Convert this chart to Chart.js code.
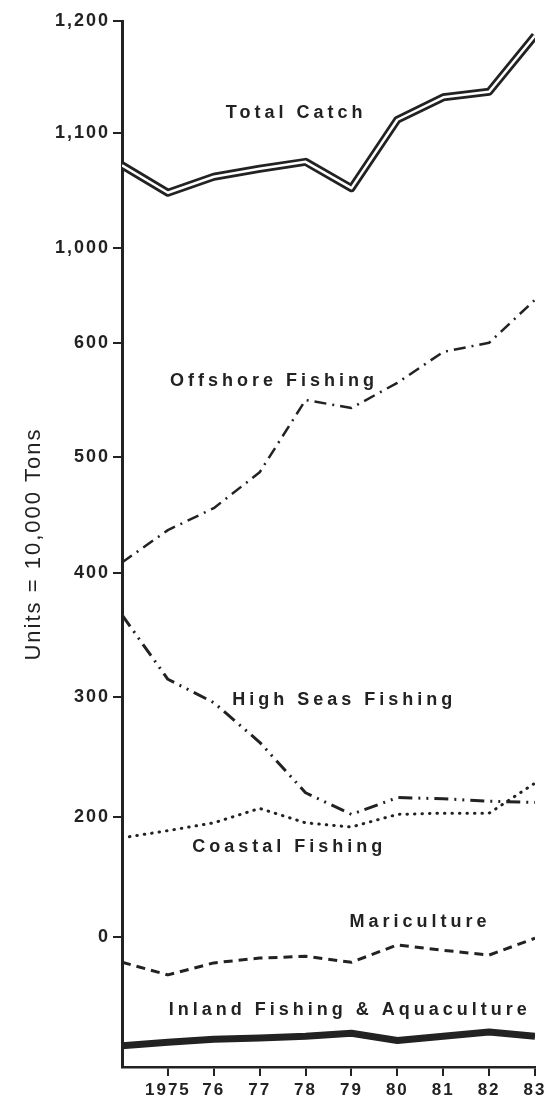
<!DOCTYPE html>
<html>
<head>
<meta charset="utf-8">
<script src="https://cdn.jsdelivr.net/npm/chart.js@4.4.1/dist/chart.umd.min.js"></script>
<style>
  html, body { margin: 0; padding: 0; background: #fff; }
  #wrap { width: 551px; height: 1102px; }
</style>
</head>
<body>
<div id="wrap"><canvas id="catchChart"></canvas></div>
<script>
// Data (units = 10,000 tons, read against the printed axis labels)
const years = [1974, 1975, 1976, 1977, 1978, 1979, 1980, 1981, 1982, 1983];
const xTickYears = [1975, 1976, 1977, 1978, 1979, 1980, 1981, 1982, 1983];
const xTickLabels = ['1975', '76', '77', '78', '79', '80', '81', '82', '83'];

const yTickValues = [0, 200, 300, 400, 500, 600, 1000, 1100, 1200];
const yTickLabels = ['0', '200', '300', '400', '500', '600', '1,000', '1,100', '1,200'];

const totalCatch  = [1072, 1048, 1062, 1069, 1075, 1052, 1112, 1132, 1137, 1187];
const offshore    = [409, 437, 456, 487, 550, 543, 565, 592, 600, 781];
const highSeas    = [366, 314, 295, 262, 220, 202, 216, 215, 213, 212];
const coastal     = [165, 177, 190, 207, 190, 183, 202, 203, 203, 228];
const mariculture = [-42, -63, -43, -35, -32, -42, -13, -22, -30, -2];
const inland      = [-181, -175, -170, -168, -165, -160, -172, -165, -158, -165];

// The printed axis is broken, so each label sits at its own slot on the axis
const axisSlots = [0, 1.05, 2.10, 3.18, 4.19, 5.19, 6.02, 7.02, 8.0];

function toAxis(v) {
  const tv = yTickValues, ts = axisSlots;
  let i = 0;
  if (v <= tv[0]) i = 0;
  else if (v >= tv[tv.length - 1]) i = tv.length - 2;
  else while (v > tv[i + 1]) i++;
  const f = (v - tv[i]) / (tv[i + 1] - tv[i]);
  return ts[i] + f * (ts[i + 1] - ts[i]);
}

function series(values) {
  return values.map((v, i) => ({ x: years[i], y: toAxis(v) }));
}

const ink = '#222';

// Labels written next to each line
const lineLabels = [
  { text: 'Total Catch', year: 1977.75, value: 1118 },
  { text: 'Offshore Fishing', year: 1977.27, value: 567 },
  { text: 'High Seas Fishing', year: 1978.8, value: 297 },
  { text: 'Coastal Fishing', year: 1977.6, value: 150 },
  { text: 'Mariculture', year: 1980.45, value: 25 },
  { text: 'Inland Fishing & Aquaculture', year: 1978.92, value: -121 }
];

const spacingPlugin = {
  id: 'spacing',
  beforeDraw(chart) {
    chart.ctx.letterSpacing = '2px';
  },
  afterDraw(chart) {
    const ctx = chart.ctx;
    const xs = chart.scales.x, ys = chart.scales.y;
    ctx.save();
    ctx.letterSpacing = '4px';
    ctx.font = 'bold 18px "Liberation Sans", Arial, sans-serif';
    ctx.fillStyle = ink;
    ctx.textAlign = 'center';
    ctx.textBaseline = 'middle';
    lineLabels.forEach(l => {
      ctx.fillText(l.text, xs.getPixelForValue(l.year) + 2, ys.getPixelForValue(toAxis(l.value)));
    });
    ctx.restore();
  }
};

const common = { pointRadius: 0, tension: 0, fill: false, borderJoinStyle: 'round' };

new Chart(document.getElementById('catchChart'), {
  type: 'line',
  data: {
    datasets: [
      Object.assign({ label: 'Total Catch (inner)', data: series(totalCatch), borderColor: '#fff', borderWidth: 2.5, order: 0 }, common),
      Object.assign({ label: 'Total Catch', data: series(totalCatch), borderColor: ink, borderWidth: 8, order: 1 }, common),
      Object.assign({ label: 'Offshore Fishing', data: series(offshore), borderColor: ink, borderWidth: 2.5, borderDash: [12, 6, 2, 6], order: 2 }, common),
      Object.assign({ label: 'High Seas Fishing', data: series(highSeas), borderColor: ink, borderWidth: 3, borderDash: [14, 6, 2, 6, 2, 6], order: 3 }, common),
      Object.assign({ label: 'Coastal Fishing', data: series(coastal), borderColor: ink, borderWidth: 3, borderDash: [0.5, 7], borderCapStyle: 'round', order: 4 }, common),
      Object.assign({ label: 'Mariculture', data: series(mariculture), borderColor: ink, borderWidth: 3, borderDash: [9, 6], order: 5 }, common),
      Object.assign({ label: 'Inland Fishing & Aquaculture', data: series(inland), borderColor: ink, borderWidth: 7, order: 6 }, common)
    ]
  },
  options: {
    responsive: true,
    maintainAspectRatio: false,
    animation: false,
    layout: { padding: { left: 0, top: 21, right: 16, bottom: 0 } },
    plugins: {
      legend: { display: false },
      tooltip: { enabled: false }
    },
    scales: {
      x: {
        type: 'linear',
        min: years[0],
        max: years[years.length - 1],
        afterFit: s => { s.height = 35; },
        afterBuildTicks: s => { s.ticks = xTickYears.map(v => ({ value: v })); },
        ticks: {
          autoSkip: false,
          maxRotation: 0,
          padding: 4,
          color: ink,
          font: { family: '"Liberation Sans", Arial, sans-serif', size: 17, weight: 'bold' },
          callback: (v, i) => xTickLabels[i]
        },
        grid: { drawOnChartArea: false, tickLength: 9, color: ink, lineWidth: 2 },
        border: { display: true, color: ink, width: 2.5 }
      },
      y: {
        type: 'linear',
        min: -1.135,
        max: 8,
        afterFit: s => { s.width = 122; },
        afterBuildTicks: s => { s.ticks = axisSlots.map(v => ({ value: v })); },
        ticks: {
          autoSkip: false,
          padding: 3,
          color: ink,
          font: { family: '"Liberation Sans", Arial, sans-serif', size: 18, weight: 'bold' },
          callback: (v, i) => yTickLabels[i]
        },
        grid: { drawOnChartArea: false, tickLength: 9, color: ink, lineWidth: 2 },
        border: { display: true, color: ink, width: 3 },
        title: {
          display: true,
          text: 'Units = 10,000 Tons',
          color: ink,
          padding: { top: 21, bottom: 0 },
          font: { family: '"Liberation Sans", Arial, sans-serif', size: 22 }
        }
      }
    }
  },
  plugins: [spacingPlugin]
});
</script>
</body>
</html>
